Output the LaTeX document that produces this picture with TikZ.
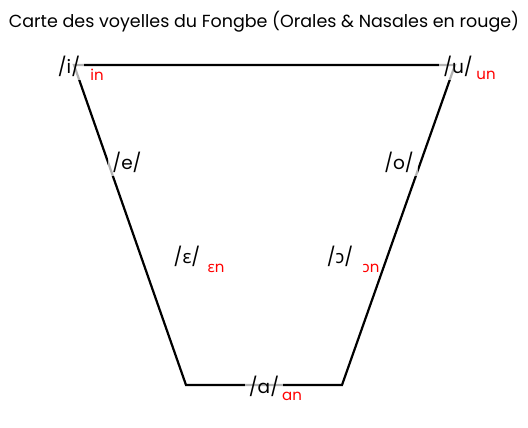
\documentclass[tikz,border=0pt]{standalone}
\usepackage{fontspec}
\setmainfont{Poppins}
\newfontfamily\ipafont{Noto Sans}
\usetikzlibrary{positioning}

\tikzset{
  vowel/.style={font=\fontsize{18.5}{22}\selectfont, fill=white, fill opacity=0.7, text opacity=1, inner sep=4pt},
  nasal/.style={font=\fontsize{15}{18}\selectfont, text=red, inner sep=1pt},
  edge/.style={line width=2.2pt, black}
}

\begin{document}
\begin{tikzpicture}[x=1pt, y=-1pt]
    \useasboundingbox (0,0) rectangle (528,428);
    \node[font=\fontsize{17.5}{20}\selectfont] (title) at (264,22) {Carte des voyelles du Fongbe (Orales \& Nasales en rouge)};

    % trapeze
    \coordinate (hg) at (74,65);
    \coordinate (hd) at (455,65);
    \coordinate (bd) at (342,385);
    \coordinate (bg) at (186,385);
    \draw[edge] (hg) -- (hd) -- (bd) -- (bg) -- cycle;

    % voyelles orales
    \node[vowel] (i) at (69,66) {/i/};
    \node[vowel] (u) at (458,66) {/u/};
    \node[vowel] (e) at (127,162) {/e/};
    \node[vowel] (o) at (399,162) {/o/};
    \node[vowel] (E) at (187,256) {/{\ipafont ɛ}/};
    \node[vowel] (O) at (340,256) {/{\ipafont ɔ}/};
    \node[vowel] (a) at (264,386) {/a/};

    % voyelles nasales
    \node[nasal] (in) at (97,75) {in};
    \node[nasal] (un) at (486,75) {un};
    \node[nasal] (En) at (216,268) {{\ipafont ɛ}n};
    \node[nasal] (On) at (371,268) {{\ipafont ɔ}n};
    \node[nasal] (an) at (292,396) {an};
\end{tikzpicture}
\end{document}
